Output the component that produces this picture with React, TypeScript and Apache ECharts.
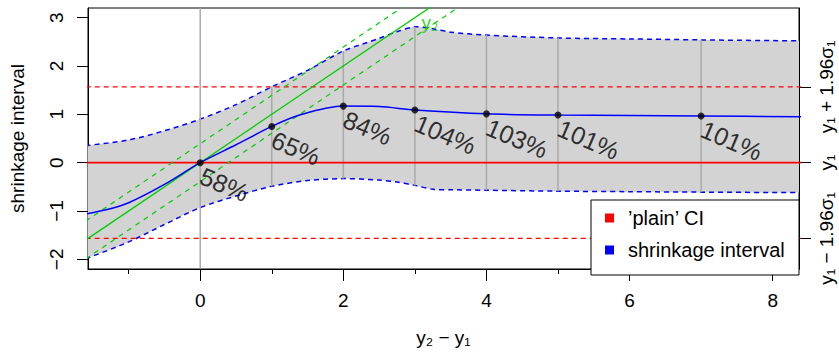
import React, { useEffect, useRef } from "react";
import * as echarts from "echarts";

// ---- axes ----
const X_MIN = -1.568;
const X_MAX = 8.368;
const Y_MIN = -2.2;
const Y_MAX = 3.2;
const X_TICKS = [0, 2, 4, 6, 8];
const X_MINOR_TICKS = [-1, 1, 3, 5, 7];
const Y_TICKS = [-2, -1, 0, 1, 2, 3];

// ---- reference quantities ----
const Y1 = 0;
const SIGMA1 = 0.8;
const SIGMA2 = 0.2;
const ZQ = 1.96;
const RIGHT_TICKS = [Y1 - ZQ * SIGMA1, Y1, Y1 + ZQ * SIGMA1];
const RIGHT_LABELS = ["y₁ − 1.96σ₁", "y₁", "y₁ + 1.96σ₁"];
const LINE_X = [-1.6, 8.4];

// ---- shrinkage estimate curve ----
const CURVE_X = [-1.6, -1.3, -1, -0.5, 0, 0.5, 1, 1.4, 2, 2.5, 3, 4, 5, 7, 8.4];
const CURVE_Y = [-1.06, -0.97, -0.83, -0.45, 0, 0.37, 0.75, 0.99, 1.17, 1.16, 1.09, 1.01, 0.985, 0.965, 0.95];

// ---- marked points ----
const POINT_X = [0, 1, 2, 3, 4, 5, 7];
const POINT_Y = [0, 0.75, 1.17, 1.09, 1.01, 0.985, 0.965];
const POINT_LABELS = ["58%", "65%", "84%", "104%", "103%", "101%", "101%"];

// ---- shrinkage interval band ----
const BAND_X = [-1.6, -1, -0.5, 0, 0.5, 1, 1.5, 2, 2.5, 2.75, 3, 3.25, 3.5, 4, 5, 6, 7, 8.4];
const BAND_UPPER = [0.35, 0.47, 0.66, 0.9, 1.2, 1.57, 1.91, 2.31, 2.57, 2.71, 2.81, 2.77, 2.7, 2.64, 2.58, 2.56, 2.54, 2.52];
const BAND_LOWER = [-1.99, -1.64, -1.28, -0.93, -0.69, -0.49, -0.37, -0.33, -0.36, -0.4, -0.47, -0.55, -0.56, -0.57, -0.59, -0.6, -0.61, -0.62];

const Y2_LABEL_POS = [3.21, 2.89];
const Y2_LABEL = "y₂";
const LEGEND_LABELS = ["’plain’ CI", "shrinkage interval"];
const LEGEND_COLORS = ["#ff0000", "#0000ff"];

const FONT = "'Liberation Sans', Arial, Helvetica, sans-serif";
const GREEN = "#00cd00";
const GRAY = "#a9a9a9";
const BAND_SMOOTH = 0.3;

const fmtMinus = (v: number) => (v < 0 ? "−" + Math.abs(v) : String(v));

export default function App() {
  const ref = useRef<HTMLDivElement>(null);

  useEffect(() => {
    if (!ref.current) return;
    const chart = echarts.init(ref.current, undefined, { renderer: "svg" });

    const segData = POINT_X.filter((x) => x !== 0).map((x) => {
      const i = BAND_X.indexOf(x);
      return [x, BAND_LOWER[i], BAND_UPPER[i]];
    });

    const hLine = (y: number) => LINE_X.map((x) => [x, y]);
    const diag = (off: number) => LINE_X.map((x) => [x, Y1 + x + off]);

    const option: any = {
      animation: false,
      textStyle: { fontFamily: FONT },
      grid: {
        left: 88,
        right: 40,
        top: 8,
        bottom: 77,
        show: true,
        borderColor: "#000",
        borderWidth: 1,
        backgroundColor: "transparent",
      },
      xAxis: [
        {
          type: "value",
          min: X_MIN,
          max: X_MAX,
          position: "bottom",
          axisLine: { show: true, onZero: false, lineStyle: { color: "#000", width: 1 } },
          axisTick: { show: true, customValues: X_TICKS, length: 12, lineStyle: { color: "#000", width: 1 } },
          axisLabel: { show: true, customValues: X_TICKS, margin: 22, fontSize: 19, color: "#000", fontFamily: FONT },
          splitLine: { show: false },
          name: "y₂ − y₁",
          nameLocation: "middle",
          nameGap: 59,
          nameTextStyle: { fontSize: 19, color: "#000", fontFamily: FONT },
        },
        {
          type: "value",
          min: X_MIN,
          max: X_MAX,
          position: "bottom",
          axisLine: { show: false, onZero: false },
          axisTick: { show: true, customValues: X_MINOR_TICKS, length: 5, lineStyle: { color: "#000", width: 1 } },
          axisLabel: { show: false },
          splitLine: { show: false },
        },
      ],
      yAxis: [
        {
          type: "value",
          min: Y_MIN,
          max: Y_MAX,
          position: "left",
          axisLine: { show: true, onZero: false, lineStyle: { color: "#000", width: 1 } },
          axisTick: { show: true, customValues: Y_TICKS, length: 11, lineStyle: { color: "#000", width: 1 } },
          axisLabel: {
            show: true,
            customValues: Y_TICKS,
            rotate: 90,
            margin: 22,
            fontSize: 19,
            color: "#000",
            fontFamily: FONT,
            formatter: (v: number) => fmtMinus(v),
          },
          splitLine: { show: false },
          name: "shrinkage interval",
          nameLocation: "middle",
          nameGap: 61,
          nameRotate: 90,
          nameTextStyle: { fontSize: 19, color: "#000", fontFamily: FONT },
        },
        {
          type: "value",
          min: Y_MIN,
          max: Y_MAX,
          position: "right",
          axisLine: { show: true, onZero: false, lineStyle: { color: "#000", width: 1 } },
          axisTick: { show: true, customValues: RIGHT_TICKS, length: 12, lineStyle: { color: "#000", width: 1 } },
          axisLabel: {
            show: true,
            customValues: RIGHT_TICKS,
            rotate: 90,
            margin: 18,
            fontSize: 19,
            color: "#000",
            fontFamily: FONT,
            formatter: (v: number) => {
              const i = RIGHT_TICKS.findIndex((t) => Math.abs(t - v) < 1e-6);
              return i >= 0 ? RIGHT_LABELS[i] : "";
            },
          },
          splitLine: { show: false },
        },
      ],
      series: [
        {
          name: LEGEND_LABELS[1],
          type: "custom",
          data: [[0, 0]],
          encode: { x: 0, y: 1 },
          clip: true,
          z: 1,
          silent: true,
          renderItem: (params: any, api: any) => {
            const up = BAND_X.map((x, i) => api.coord([x, BAND_UPPER[i]]));
            const lo = BAND_X.map((x, i) => api.coord([x, BAND_LOWER[i]]));
            // duplicate end points so the closed smoothing matches the open curves
            const upD = [up[0], ...up, up[up.length - 1]];
            const loD = [lo[0], ...lo, lo[lo.length - 1]];
            const poly = upD.concat(loD.slice().reverse());
            const dashStyle = { stroke: "#0000ff", lineWidth: 1.5, lineDash: [5, 4], fill: null };
            return {
              type: "group",
              children: [
                { type: "polygon", shape: { points: poly, smooth: BAND_SMOOTH }, style: { fill: "#d3d3d3", stroke: null } },
                { type: "polyline", shape: { points: upD, smooth: BAND_SMOOTH }, style: dashStyle, z2: 10 },
                { type: "polyline", shape: { points: loD, smooth: BAND_SMOOTH }, style: dashStyle, z2: 10 },
              ],
            };
          },
        },
        {
          name: "v0",
          type: "line",
          data: [
            [0, Y_MIN],
            [0, Y_MAX],
          ],
          symbol: "none",
          lineStyle: { color: GRAY, width: 1.5 },
          z: 2,
        },
        {
          name: "segments",
          type: "custom",
          data: segData,
          encode: { x: 0, y: [1, 2] },
          z: 2,
          renderItem: (params: any, api: any) => {
            const p1 = api.coord([api.value(0), api.value(1)]);
            const p2 = api.coord([api.value(0), api.value(2)]);
            return {
              type: "line",
              shape: { x1: p1[0], y1: p1[1], x2: p2[0], y2: p2[1] },
              style: { stroke: GRAY, lineWidth: 1.5 },
            };
          },
        },
        {
          name: LEGEND_LABELS[0],
          type: "line",
          data: hLine(Y1),
          symbol: "none",
          lineStyle: { color: "#ff0000", width: 1.6 },
          z: 4,
        },
        {
          name: "ci-up",
          type: "line",
          data: hLine(RIGHT_TICKS[2]),
          symbol: "none",
          lineStyle: { color: "#ff0000", width: 1.2, type: [5, 4] },
          z: 4,
        },
        {
          name: "ci-low",
          type: "line",
          data: hLine(RIGHT_TICKS[0]),
          symbol: "none",
          lineStyle: { color: "#ff0000", width: 1.2, type: [5, 4] },
          z: 4,
        },
        {
          name: "y2",
          type: "line",
          data: diag(0),
          symbol: "none",
          lineStyle: { color: GREEN, width: 1.3 },
          z: 4,
        },
        {
          name: "y2-up",
          type: "line",
          data: diag(ZQ * SIGMA2),
          symbol: "none",
          lineStyle: { color: GREEN, width: 1.2, type: [5, 5] },
          z: 4,
        },
        {
          name: "y2-low",
          type: "line",
          data: diag(-ZQ * SIGMA2),
          symbol: "none",
          lineStyle: { color: GREEN, width: 1.2, type: [5, 5] },
          z: 4,
        },
        {
          name: "estimate",
          type: "line",
          data: CURVE_X.map((x, i) => [x, CURVE_Y[i]]),
          smooth: 0.3,
          symbol: "none",
          lineStyle: { color: "#0000ff", width: 1.5 },
          z: 5,
        },
        {
          name: "points",
          type: "scatter",
          data: POINT_X.map((x, i) => [x, POINT_Y[i]]),
          symbol: "circle",
          symbolSize: 7,
          itemStyle: { color: "#000" },
          z: 6,
          label: {
            show: true,
            formatter: (p: any) => POINT_LABELS[p.dataIndex],
            position: [9.5, 4],
            align: "left",
            verticalAlign: "top",
            rotate: -23,
            fontSize: 25,
            color: "#000",
            fontFamily: FONT,
          },
        },
        {
          name: "y2-label",
          type: "scatter",
          data: [Y2_LABEL_POS],
          symbol: "rect",
          symbolSize: 1,
          itemStyle: { color: "rgba(0,0,0,0)" },
          z: 6,
          label: {
            show: true,
            formatter: Y2_LABEL,
            position: "inside",
            fontSize: 19,
            color: GREEN,
            fontFamily: FONT,
          },
        },
      ],
      graphic: [
        {
          type: "rect",
          shape: { x: 591, y: 200, width: 208, height: 75 },
          style: { fill: "#fff", stroke: "#000", lineWidth: 1 },
          z: 100,
        },
        {
          type: "rect",
          shape: { x: 605, y: 213.5, width: 9, height: 9 },
          style: { fill: LEGEND_COLORS[0] },
          z: 101,
        },
        {
          type: "rect",
          shape: { x: 605, y: 245.5, width: 9, height: 9 },
          style: { fill: LEGEND_COLORS[1] },
          z: 101,
        },
        {
          type: "text",
          x: 628,
          y: 218,
          style: { text: LEGEND_LABELS[0], fontSize: 20, fill: "#000", fontFamily: FONT, verticalAlign: "middle" },
          z: 101,
        },
        {
          type: "text",
          x: 628,
          y: 250,
          style: { text: LEGEND_LABELS[1], fontSize: 20, fill: "#000", fontFamily: FONT, verticalAlign: "middle" },
          z: 101,
        },
      ],
    };

    chart.setOption(option);
    return () => chart.dispose();
  }, []);

  return (
    <div
      ref={ref}
      style={{ position: "fixed", left: 0, top: 0, width: 839, height: 352, background: "#fff" }}
    />
  );
}
